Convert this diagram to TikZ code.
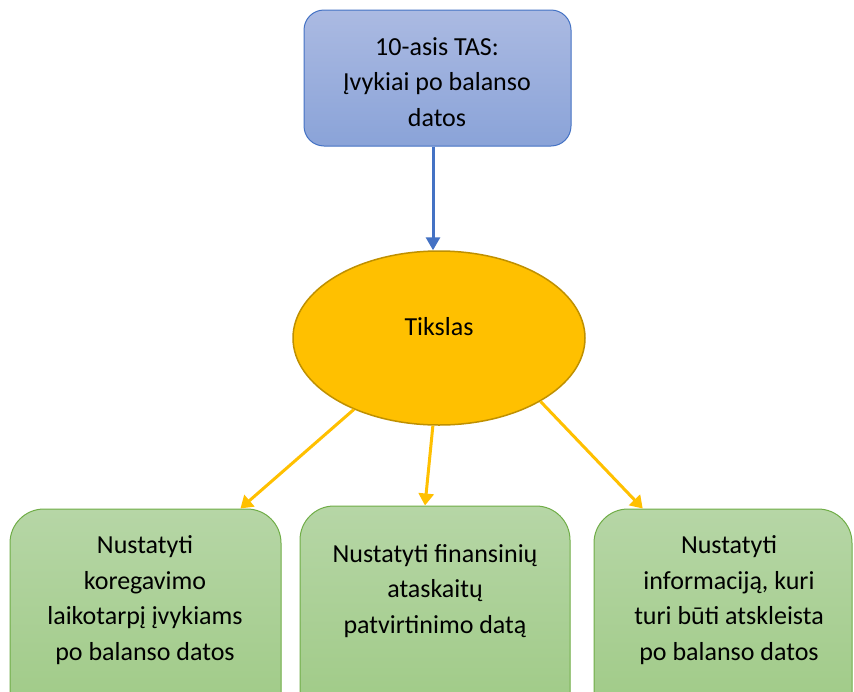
\documentclass[tikz,border=0pt]{standalone}
\usepackage{fontspec}
\setmainfont{Carlito}
\usetikzlibrary{shapes.geometric,arrows.meta,calc}
\definecolor{bluetop}{RGB}{171,186,226}
\definecolor{bluebot}{RGB}{138,163,216}
\definecolor{blueline}{RGB}{68,114,196}
\definecolor{gold}{RGB}{255,192,0}
\definecolor{goldline}{RGB}{191,144,0}
\definecolor{greentop}{RGB}{182,214,166}
\definecolor{greenbot}{RGB}{157,201,131}
\definecolor{greenline}{RGB}{112,173,71}
\tikzset{
  txt/.style={align=center, font=\fontsize{26}{35.5}\selectfont, text=black, inner sep=0pt},
  topbox/.style={draw=blueline, line width=1pt, rounded corners=20pt, top color=bluetop, bottom color=bluebot, minimum width=267pt, minimum height=136pt, inner sep=0pt},
  goalell/.style={ellipse, draw=goldline, line width=1.5pt, fill=gold, minimum width=292pt, minimum height=174pt, inner sep=0pt},
  greenbox/.style={draw=greenline, line width=1pt, rounded corners=34pt, top color=greentop, bottom color=greenbot, minimum height=230pt, inner sep=0pt},
  bluearrow/.style={draw=blueline, line width=3pt, -{Triangle[width=14pt,length=13pt]}},
  goldarrow/.style={draw=gold, line width=3pt, -{Triangle[width=15pt,length=12pt]}}
}
\begin{document}
\begin{tikzpicture}[x=1pt,y=-1pt]
\clip (0,0) rectangle (854,691);
\fill[white] (0,0) rectangle (854,691);
% top box
\node[topbox] (tas) at (437.5,78) {};
\node[txt] (tastxt) at (437,82) {10-asis TAS:\\Įvykiai po balanso\\datos};
% ellipse
\node[goalell] (tik) at (439,338) {};
\node[txt] (tiktxt) at (439,327) {Tikslas};
% bottom boxes (extend past the lower edge)
\node[greenbox, minimum width=271pt] (lbox) at (145.5,624) {};
\node[greenbox, minimum width=270pt] (mbox) at (435,621) {};
\node[greenbox, minimum width=258pt] (rbox) at (723,624) {};
\node[txt] (ltxt) at (145,600) {Nustatyti\\koregavimo\\laikotarpį įvykiams\\po balanso datos};
\node[txt] (mtxt) at (435,591) {Nustatyti finansinių\\ataskaitų\\patvirtinimo datą};
\node[txt] (rtxt) at (729,600) {Nustatyti\\informaciją, kuri\\turi būti atskleista\\po balanso datos};
% connectors
\draw[bluearrow] (tas.south -| 433,0) -- (tik.north -| 433,0);
\draw[goldarrow] (tik.220.6) -- ($(lbox.north west)!0.849!(lbox.north east)$);
\draw[goldarrow] (tik.266) -- ($(mbox.north west)!0.463!(mbox.north east)$);
\draw[goldarrow] (tik.328.5) -- ($(rbox.north west)!0.19!(rbox.north east)$);
\end{tikzpicture}
\end{document}
